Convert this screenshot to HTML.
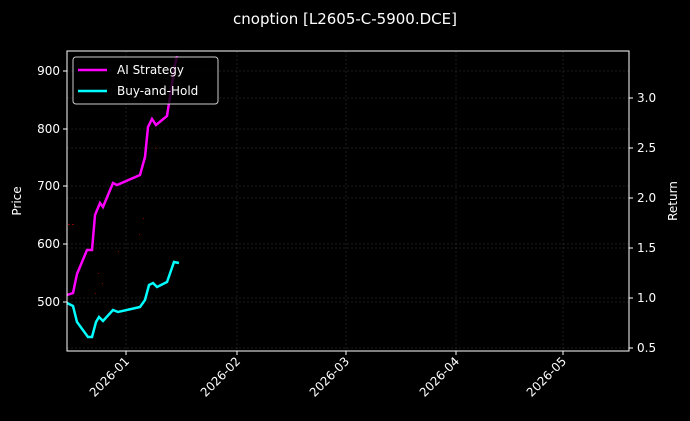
<!DOCTYPE html>
<html><head><style>body{margin:0;background:#000}svg{display:block}text{font-family:"DejaVu Sans","Liberation Sans",sans-serif;fill:#fff}</style></head>
<body>
<svg width="690" height="421" xmlns="http://www.w3.org/2000/svg">
<rect width="690" height="421" fill="#000"/>
<text x="345" y="24" font-size="15" text-anchor="middle">cnoption [L2605-C-5900.DCE]</text>
<g stroke="#3a3a3a" stroke-width="0.5" stroke-dasharray="2,2">
<line x1="126" y1="51" x2="126" y2="351"/><line x1="237" y1="51" x2="237" y2="351"/><line x1="346" y1="51" x2="346" y2="351"/><line x1="456" y1="51" x2="456" y2="351"/><line x1="563" y1="51" x2="563" y2="351"/>
<line x1="67" y1="71" x2="629" y2="71"/><line x1="67" y1="129" x2="629" y2="129"/><line x1="67" y1="186" x2="629" y2="186"/><line x1="67" y1="244" x2="629" y2="244"/><line x1="67" y1="302" x2="629" y2="302"/>
<line x1="67" y1="98" x2="629" y2="98"/><line x1="67" y1="148" x2="629" y2="148"/><line x1="67" y1="198" x2="629" y2="198"/><line x1="67" y1="248" x2="629" y2="248"/><line x1="67" y1="298" x2="629" y2="298"/><line x1="67" y1="348" x2="629" y2="348"/>
</g>
<g fill="#800">
<rect x="68" y="224" width="2" height="1"/><rect x="72" y="224" width="2" height="1"/><rect x="98" y="273" width="1" height="1"/><rect x="102" y="283" width="1" height="1"/><rect x="143" y="218" width="1" height="1"/><rect x="139" y="234" width="1" height="1"/><rect x="155" y="148" width="1" height="1"/><rect x="118" y="251" width="1" height="1"/><rect x="95" y="293" width="1" height="1"/>
</g>
<polyline fill="none" stroke="#ff00ff" stroke-width="2.5" points="67,295 73,293 77,274 87,250 92,250 95,215 100,203 103,207 113,183 117,185 140,175 145,157 148,127 152,119 156,125 167,116 169,103 175,65 177,56"/>
<polyline fill="none" stroke="#00ffff" stroke-width="2.5" points="67,303 73,306 77,322 88,337 92,337 96,322 99,317 103,321 113,310 118,312 140,307 145,300 149,285 153,283 157,287 167,282 174,262 179,263"/>
<rect x="67" y="51" width="562" height="300" fill="none" stroke="#fff" stroke-width="1"/>
<g stroke="#fff" stroke-width="1">
<line x1="63" y1="71" x2="67" y2="71"/><line x1="63" y1="129" x2="67" y2="129"/><line x1="63" y1="186" x2="67" y2="186"/><line x1="63" y1="244" x2="67" y2="244"/><line x1="63" y1="302" x2="67" y2="302"/>
<line x1="629" y1="98" x2="633" y2="98"/><line x1="629" y1="148" x2="633" y2="148"/><line x1="629" y1="198" x2="633" y2="198"/><line x1="629" y1="248" x2="633" y2="248"/><line x1="629" y1="298" x2="633" y2="298"/><line x1="629" y1="348" x2="633" y2="348"/>
<line x1="126" y1="351" x2="126" y2="355"/><line x1="237" y1="351" x2="237" y2="355"/><line x1="346" y1="351" x2="346" y2="355"/><line x1="456" y1="351" x2="456" y2="355"/><line x1="563" y1="351" x2="563" y2="355"/>
</g>
<g font-size="12" text-anchor="end">
<text x="60" y="75">900</text><text x="60" y="133">800</text><text x="60" y="190">700</text><text x="60" y="248">600</text><text x="60" y="306">500</text>
</g>
<g font-size="12">
<text x="637" y="102">3.0</text><text x="637" y="152">2.5</text><text x="637" y="202">2.0</text><text x="637" y="252">1.5</text><text x="637" y="302">1.0</text><text x="637" y="352">0.5</text>
</g>
<g font-size="12" text-anchor="end">
<text transform="translate(130,362) rotate(-45)">2026-01</text>
<text transform="translate(241,362) rotate(-45)">2026-02</text>
<text transform="translate(350,362) rotate(-45)">2026-03</text>
<text transform="translate(460,362) rotate(-45)">2026-04</text>
<text transform="translate(567,362) rotate(-45)">2026-05</text>
</g>
<text font-size="12" text-anchor="middle" transform="translate(21,201) rotate(-90)">Price</text>
<text font-size="12" text-anchor="middle" transform="translate(677,201) rotate(-90)">Return</text>
<rect x="73" y="57" width="145" height="47" rx="3" fill="#000" fill-opacity="0.8" stroke="#ccc" stroke-width="1"/>
<line x1="78" y1="70" x2="107" y2="70" stroke="#ff00ff" stroke-width="2.5"/>
<line x1="78" y1="91" x2="107" y2="91" stroke="#00ffff" stroke-width="2.5"/>
<text x="117" y="74" font-size="12">AI Strategy</text>
<text x="117" y="95" font-size="12">Buy-and-Hold</text>
</svg>
</body></html>
